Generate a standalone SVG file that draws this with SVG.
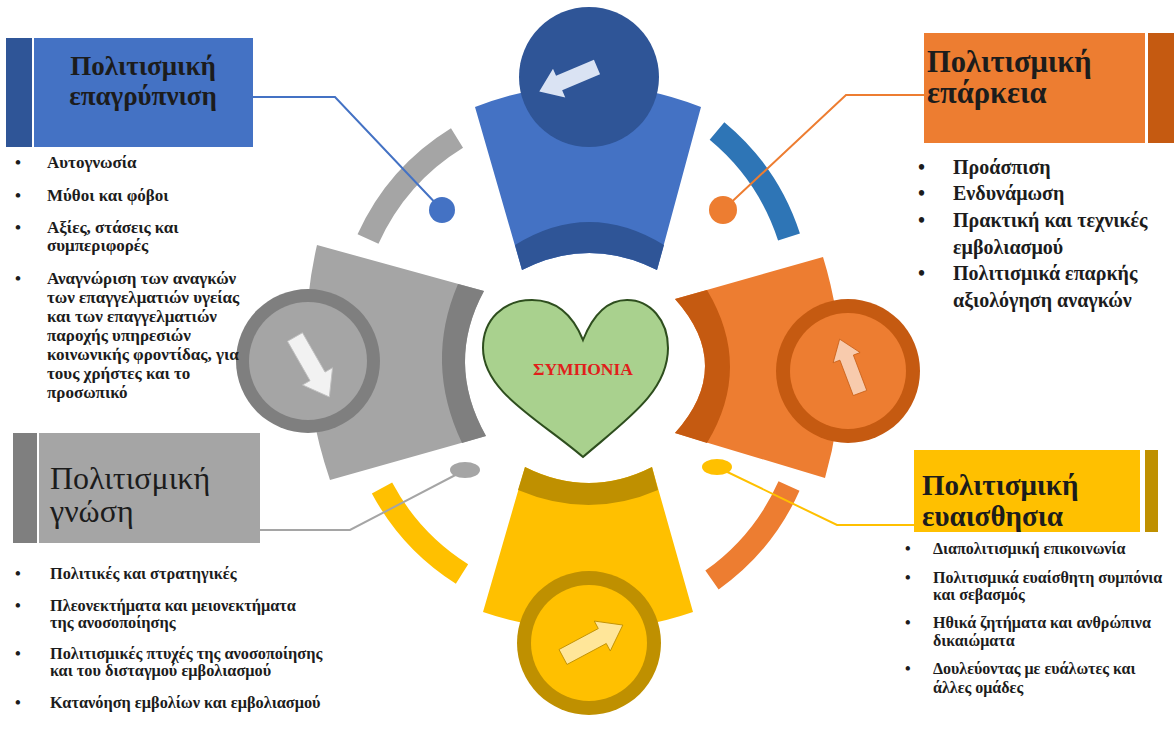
<svg xmlns="http://www.w3.org/2000/svg" width="1174" height="734" viewBox="0 0 1174 734">
<defs>
<style>
.t{font-family:"Liberation Serif","Times New Roman","DejaVu Serif",serif;fill:#1c1c1c}
.li{font-size:17px;font-weight:bold}
.lr{font-size:20px;font-weight:bold}
.ls{font-size:16.3px;font-weight:bold}
.lb{font-size:16px;font-weight:bold}
.arc{fill:none;stroke-width:23}
.con{fill:none;stroke-width:2}
</style>
<path id="arr" d="M0,-8 L42,-8 L42,-16 L64,0 L42,16 L42,8 L0,8 Z"/>
</defs>
<rect width="1174" height="734" fill="#ffffff"/>

<g id="arcs">
<path class="arc" stroke="#A5A5A5" d="M457,138 A230,230 0 0 0 368,239"/>
<path class="arc" stroke="#2E75B6" d="M717,131 A230,230 0 0 1 789,237"/>
<path class="arc" stroke="#ED7D31" d="M789,486 A230,230 0 0 1 712,580"/>
<path class="arc" stroke="#FFC000" d="M382,488 A230,230 0 0 0 462,574"/>
</g>

<g id="node-blue">
<path fill="#4472C4" d="M475,107 Q588,63 701,107 L657,270 Q589,236 522,270 Z"/>
<path fill="#2F5597" d="M515,245 Q589,199 664,245 L657,270 Q589,236 522,270 Z"/>
<circle cx="589" cy="77" r="70" fill="#2F5597"/>
<use href="#arr" fill="#DAE3F3" transform="translate(597,67) rotate(157) scale(0.98)"/>
</g>

<g id="node-gray">
<path fill="#A5A5A5" d="M317,245 L484,291 Q445,363 486,436 L330,480 Q290,362 317,245 Z"/>
<path fill="#7F7F7F" d="M458,284 L484,291 Q445,363 486,436 L462,443 Q424,363 458,284 Z"/>
<circle cx="308" cy="361" r="72" fill="#7F7F7F"/>
<circle cx="308" cy="361" r="59" fill="#A5A5A5"/>
<use href="#arr" fill="#F2F2F2" stroke="#BFBFBF" stroke-width="0.8" transform="translate(295,337) rotate(60.2) scale(1.08)"/>
</g>

<g id="node-orange">
<path fill="#ED7D31" d="M675,299 L823,257 Q857,367 825,478 L675,433 Q735,366 675,299 Z"/>
<path fill="#C55A11" d="M675,299 L707,290 Q753,367 707,443 L675,433 Q735,366 675,299 Z"/>
<circle cx="848" cy="371" r="72" fill="#C55A11"/>
<circle cx="848" cy="371" r="58" fill="#ED7D31"/>
<use href="#arr" fill="#F8CBAD" stroke="#C55A11" stroke-width="0.8" transform="translate(860,393) rotate(-110.7) scale(0.9)"/>
</g>

<g id="node-yellow">
<path fill="#FFC000" d="M525,467 Q589,499 652,467 L693,612 Q588,648 483,612 Z"/>
<path fill="#BF9000" d="M525,467 Q589,499 652,467 L658,490 Q589,520 518,490 Z"/>
<circle cx="589" cy="643" r="72" fill="#BF9000"/>
<circle cx="589" cy="643" r="58" fill="#FFC000"/>
<use href="#arr" fill="#FFE699" stroke="#BF9000" stroke-width="0.8" transform="translate(563,657) rotate(-28.1) scale(1.06)"/>
</g>

<g id="node-heart">
<path fill="#A9D18E" stroke="#2E4E1E" stroke-width="2" d="M583,340 C572,313 555,300 532,300 C503,300 483,320 483,348 C483,392 540,420 583,457 C626,420 668,392 668,348 C668,320 650,300 627,300 C607,300 593,315 583,340 Z"/>
<text x="583" y="375" text-anchor="middle" font-family="Liberation Serif, DejaVu Serif, serif" font-weight="bold" font-size="17.5" fill="#E0201B">ΣΥΜΠΟΝΙΑ</text>
</g>

<g id="connectors">
<path class="con" stroke="#4472C4" d="M253,97 L335,97 L442,210"/>
<circle cx="442" cy="210" r="13" fill="#4472C4"/>
<path class="con" stroke="#ED7D31" d="M924,95 L846,95 L723,210"/>
<circle cx="723" cy="210" r="14" fill="#ED7D31"/>
<path class="con" stroke="#A5A5A5" d="M465,470 L350,530 L260,530"/>
<ellipse cx="465" cy="470" rx="15" ry="8" fill="#A5A5A5"/>
<path class="con" stroke="#FFC000" d="M717,467 L837,525 L914,525"/>
<ellipse cx="717" cy="467" rx="15" ry="8" fill="#FFC000"/>
</g>

<g id="box-awareness">
<rect x="6" y="38" width="26" height="109" fill="#2F5597"/>
<rect x="34" y="38" width="219" height="109" fill="#4472C4"/>
<text class="t" font-weight="bold" font-size="27" text-anchor="middle" x="143" y="75">Πολιτισμική</text>
<text class="t" font-weight="bold" font-size="27" text-anchor="middle" x="143" y="105">επαγρύπνιση</text>
<g class="t li">
<text x="15" y="168">•</text><text x="47" y="168">Αυτογνωσία</text>
<text x="15" y="201">•</text><text x="47" y="201">Μύθοι και φόβοι</text>
<text x="15" y="233">•</text><text x="47" y="233">Αξίες, στάσεις και</text>
<text x="47" y="251">συμπεριφορές</text>
<text x="15" y="284">•</text><text x="47" y="284">Αναγνώριση των αναγκών</text>
<text x="47" y="303">των επαγγελματιών υγείας</text>
<text x="47" y="322">και των επαγγελματιών</text>
<text x="47" y="341">παροχής υπηρεσιών</text>
<text x="47" y="360">κοινωνικής φροντίδας, για</text>
<text x="47" y="379">τους χρήστες και το</text>
<text x="47" y="398">προσωπικό</text>
</g>
</g>

<g id="box-competence">
<rect x="924" y="33" width="221" height="110" fill="#ED7D31"/>
<rect x="1148" y="33" width="26" height="110" fill="#C55A11"/>
<text class="t" font-weight="bold" font-size="30.5" x="927" y="72">Πολιτισμική</text>
<text class="t" font-weight="bold" font-size="30.5" x="927" y="103">επάρκεια</text>
<g class="t lr">
<text x="918" y="174">•</text><text x="953" y="174">Προάσπιση</text>
<text x="918" y="200">•</text><text x="953" y="200">Ενδυνάμωση</text>
<text x="918" y="227">•</text><text x="953" y="227">Πρακτική και τεχνικές</text>
<text x="953" y="254">εμβολιασμού</text>
<text x="918" y="280">•</text><text x="953" y="280">Πολιτισμικά επαρκής</text>
<text x="953" y="307">αξιολόγηση αναγκών</text>
</g>
</g>

<g id="box-knowledge">
<rect x="13" y="433" width="24" height="110" fill="#7F7F7F"/>
<rect x="39" y="433" width="221" height="110" fill="#A5A5A5"/>
<text class="t" font-size="32" x="50" y="489">Πολιτισμική</text>
<text class="t" font-size="32" x="50" y="522">γνώση</text>
<g class="t ls">
<text x="15" y="579">•</text><text x="50" y="579">Πολιτικές και στρατηγικές</text>
<text x="15" y="611">•</text><text x="50" y="611">Πλεονεκτήματα και μειονεκτήματα</text>
<text x="50" y="628">της ανοσοποίησης</text>
<text x="15" y="659">•</text><text x="50" y="659">Πολιτισμικές πτυχές της ανοσοποίησης</text>
<text x="50" y="676">και του δισταγμού εμβολιασμού</text>
<text x="15" y="708">•</text><text x="50" y="708">Κατανόηση εμβολίων και εμβολιασμού</text>
</g>
</g>

<g id="box-sensitivity">
<rect x="914" y="450" width="226" height="82" fill="#FFC000"/>
<rect x="1145" y="450" width="13" height="82" fill="#BF9000"/>
<text class="t" font-weight="bold" font-size="29" x="922" y="495">Πολιτισμική</text>
<text class="t" font-weight="bold" font-size="29" x="922" y="526">ευαισθησια</text>
<g class="t lb">
<text x="905" y="554">•</text><text x="933" y="554">Διαπολιτισμική επικοινωνία</text>
<text x="905" y="583">•</text><text x="933" y="583">Πολιτισμικά ευαίσθητη συμπόνια</text>
<text x="933" y="600">και σεβασμός</text>
<text x="905" y="628">•</text><text x="933" y="628">Ηθικά ζητήματα και ανθρώπινα</text>
<text x="933" y="646">δικαιώματα</text>
<text x="905" y="674">•</text><text x="933" y="674">Δουλεύοντας με ευάλωτες και</text>
<text x="933" y="693">άλλες ομάδες</text>
</g>
</g>
</svg>
